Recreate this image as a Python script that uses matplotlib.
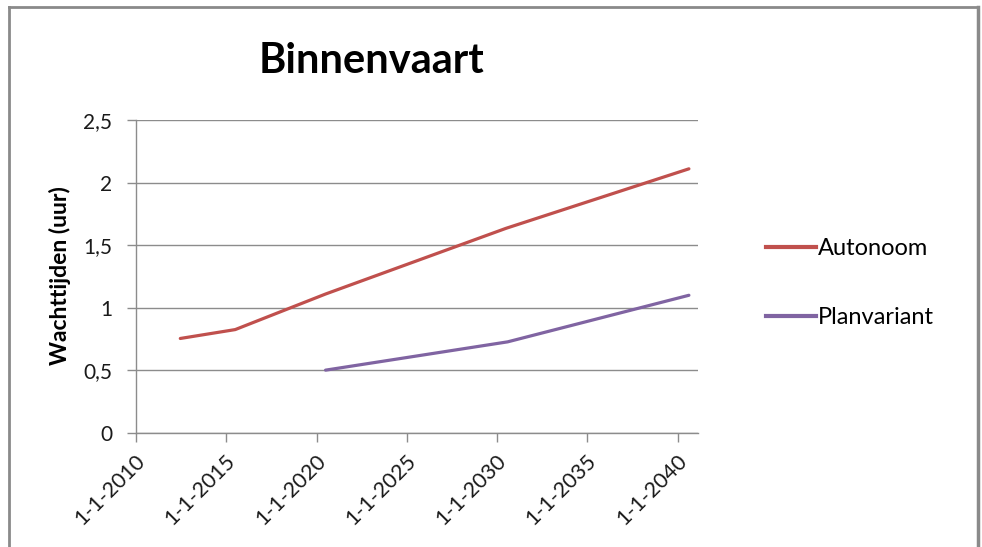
import matplotlib
matplotlib.use("Agg")
import matplotlib.pyplot as plt
import matplotlib.transforms as mtransforms
from matplotlib.lines import Line2D
import datetime as dt

plt.rcParams['font.family'] = ['Lato', 'DejaVu Sans']

# Data
autonoom_dates = ["2012-06-15", "2015-07-01", "2020-07-01", "2030-07-01", "2040-08-15"]
autonoom_values = [0.755, 0.826, 1.11, 1.635, 2.11]
plan_dates = ["2020-07-01", "2030-08-01", "2040-08-15"]
plan_values = [0.502, 0.728, 1.10]
tick_years = [2010, 2015, 2020, 2025, 2030, 2035, 2040]
yticks = [0, 0.5, 1, 1.5, 2, 2.5]
ytick_labels = ["0", "0,5", "1", "1,5", "2", "2,5"]
title = "Binnenvaart"
ylabel = "Wachttijden (uur)"
series_names = ["Autonoom", "Planvariant"]

W, H = 982, 547
fig = plt.figure(figsize=(W / 100, H / 100), dpi=100)
ax = fig.add_axes([136 / W, 1 - 433 / H, (698 - 136) / W, (433 - 120) / H])

to_dt = lambda s: dt.datetime.strptime(s, "%Y-%m-%d")
ad = [to_dt(s) for s in autonoom_dates]
pd_ = [to_dt(s) for s in plan_dates]

red = "#C0504D"
purple = "#8064A2"
ax.plot(ad, autonoom_values, color=red, lw=2.3, solid_capstyle='round', label=series_names[0])
ax.plot(pd_, plan_values, color=purple, lw=2.3, solid_capstyle='round', label=series_names[1])

ax.set_ylim(0, 2.5)
ax.set_xlim(dt.datetime(2010, 1, 1), dt.datetime(2041, 2, 15))
ax.set_yticks(yticks)
ax.set_yticklabels(ytick_labels)
ticks = [dt.datetime(y, 1, 1) for y in tick_years]
ax.set_xticks(ticks)
ax.set_xticklabels([f"{d.day}-{d.month}-{d.year}" for d in ticks])

gridc = "#8C8C8C"
ax.grid(axis='y', color=gridc, lw=1.0)
ax.set_axisbelow(True)
for s in ['top', 'right']:
    ax.spines[s].set_visible(False)
for s in ['left', 'bottom']:
    ax.spines[s].set_color(gridc)
    ax.spines[s].set_linewidth(1.0)
ax.tick_params(axis='both', colors=gridc, length=6.5, width=1.0, labelcolor='#1a1a1a')
ax.tick_params(axis='y', pad=10.5, labelsize=15)
ax.tick_params(axis='x', pad=2, labelsize=15.5)

offset = mtransforms.ScaledTranslation(13 / 100, -6 / 100, fig.dpi_scale_trans)
for lab in ax.get_xticklabels():
    lab.set_rotation(45)
    lab.set_ha('right')
    lab.set_va('top')
    lab.set_transform(lab.get_transform() + offset)

fig.text(372 / W, 1 - 61 / H, title, ha='center', va='center', fontsize=30, fontweight='bold', color='black')
fig.text(60 / W, 1 - 276 / H, ylabel, ha='center', va='center', rotation=90, fontsize=16.5, fontweight='bold', color='black')

# Legend
handles = [Line2D([], [], color=red, lw=3), Line2D([], [], color=purple, lw=3)]
leg = fig.legend(handles, series_names, loc='upper left', bbox_to_anchor=(766 / W, 1 - 238 / H),
                 frameon=False, fontsize=17, handlelength=2.1, handletextpad=0.1,
                 labelspacing=2.05, borderaxespad=0, borderpad=0)

# Border (top, left, right)
bc = "#8A8A8A"
fig.add_artist(Line2D([9 / W, 9 / W], [0, 1 - 7 / H], transform=fig.transFigure, color=bc, lw=2))
fig.add_artist(Line2D([978 / W, 978 / W], [0, 1 - 7 / H], transform=fig.transFigure, color=bc, lw=2.5))
fig.add_artist(Line2D([9 / W, 978 / W], [1 - 7 / H, 1 - 7 / H], transform=fig.transFigure, color=bc, lw=2))

fig.savefig("out.png", dpi=100, facecolor='white')
